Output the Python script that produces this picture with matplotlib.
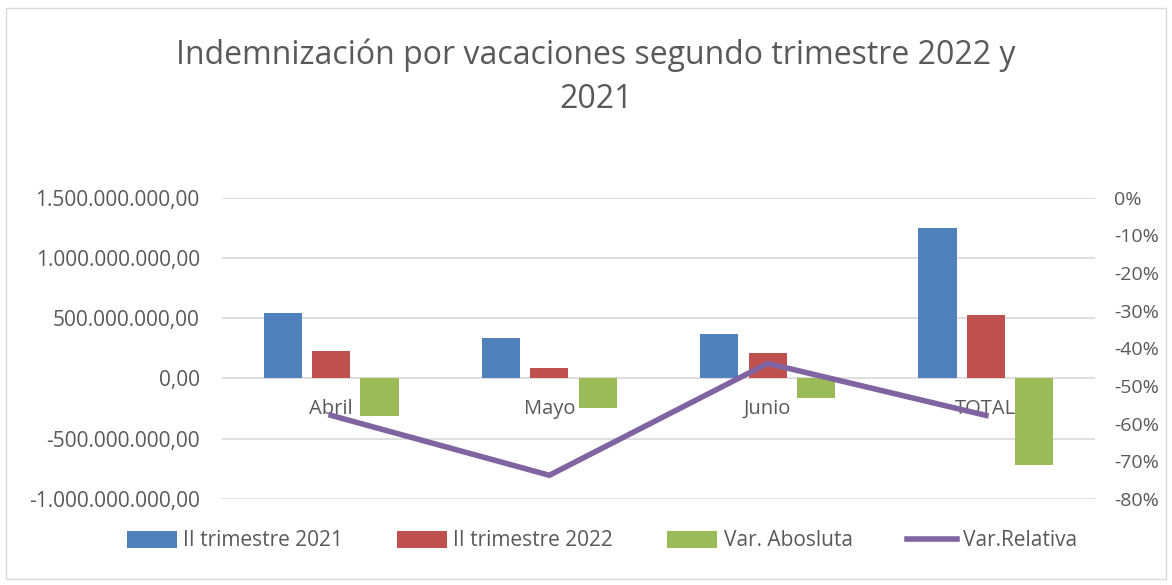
import numpy as np
import matplotlib
matplotlib.use("Agg")
import matplotlib.pyplot as plt
from matplotlib.patches import Rectangle
from matplotlib.ticker import FuncFormatter, MultipleLocator

categories = ["Abril", "Mayo", "Junio", "TOTAL"]
trim_2021 = [542e6, 338e6, 368e6, 1248e6]
trim_2022 = [230e6, 89e6, 208e6, 527e6]
var_abs = [-312e6, -249e6, -160e6, -721e6]
var_rel = [-0.578, -0.737, -0.44, -0.578]
legend_labels = ["II trimestre 2021", "II trimestre 2022", "Var. Abosluta", "Var.Relativa"]

BLUE, RED, GREEN, PURPLE = "#4F81BD", "#C0504D", "#9BBB59", "#8064A2"
TXT = "#595959"
GRID = "#D9D9D9"
plt.rcParams["font.family"] = ["Open Sans", "DejaVu Sans"]


def es_num(v, _pos=None):
    # 1.500.000.000,00 style
    s = f"{abs(v):,.2f}".replace(",", "X").replace(".", ",").replace("X", ".")
    return ("-" if v < 0 else "") + s


fig = plt.figure(figsize=(11.72, 5.85), dpi=100)
ax = fig.add_axes([222 / 1172, 1 - 499 / 585, (1095 - 222) / 1172, (499 - 197.7) / 585])
ax2 = ax.twinx()

x = np.arange(len(categories))
w, off = 0.175, 0.222
b1 = ax.bar(x - off, trim_2021, w, color=BLUE, zorder=3)
b2 = ax.bar(x, trim_2022, w, color=RED, zorder=3)
b3 = ax.bar(x + off, var_abs, w, color=GREEN, zorder=3)

ax.set_xlim(-0.5, len(categories) - 0.5)
ax.set_ylim(-1e9, 1.5e9)
ax.yaxis.set_major_locator(MultipleLocator(5e8))
ax.yaxis.set_major_formatter(FuncFormatter(es_num))
ax.grid(axis="y", color=GRID, linewidth=1.2, zorder=0)
ax.set_xticks([])
for sp in ax.spines.values():
    sp.set_visible(False)
ax.tick_params(axis="y", length=0, labelsize=15, labelcolor=TXT, pad=16)
for xi, c in zip(x, categories):
    ax.annotate(c, (xi, 0), xytext=(0, -22), textcoords="offset points",
                ha="center", va="center", fontsize=14.5, color=TXT, zorder=2)

ln, = ax2.plot(x, var_rel, color=PURPLE, linewidth=4, zorder=4)
ax2.set_ylim(-0.8, 0)
ax2.yaxis.set_major_locator(MultipleLocator(0.1))
ax2.yaxis.set_major_formatter(FuncFormatter(lambda v, _p: f"{v * 100:.0f}%"))
for sp in ax2.spines.values():
    sp.set_visible(False)
ax2.tick_params(axis="y", length=0, labelsize=14, labelcolor=TXT, pad=14)
ax.set_zorder(1)
ax2.set_zorder(2)
ax2.patch.set_visible(False)

fig.text(596 / 1172, 1 - 55 / 585, "Indemnización por vacaciones segundo trimestre 2022 y",
         ha="center", va="center", fontsize=23, color=TXT)
fig.text(596 / 1172, 1 - 99 / 585, "2021", ha="center", va="center",
         fontsize=23, color=TXT)

fig.legend([b1, b2, b3, ln], legend_labels, loc="center", ncol=4,
           bbox_to_anchor=(602 / 1172, 1 - 541 / 585), frameon=False, fontsize=15,
           labelcolor=TXT, handlelength=2.4, handleheight=0.9, handletextpad=0.3,
           columnspacing=2.6, borderpad=0)

fig.patches.append(Rectangle((6 / 1172, 6 / 585), 1 - 12 / 1172, 1 - 14 / 585,
                             transform=fig.transFigure, fill=False,
                             edgecolor=GRID, linewidth=1))

fig.savefig("out.png", dpi=100)
